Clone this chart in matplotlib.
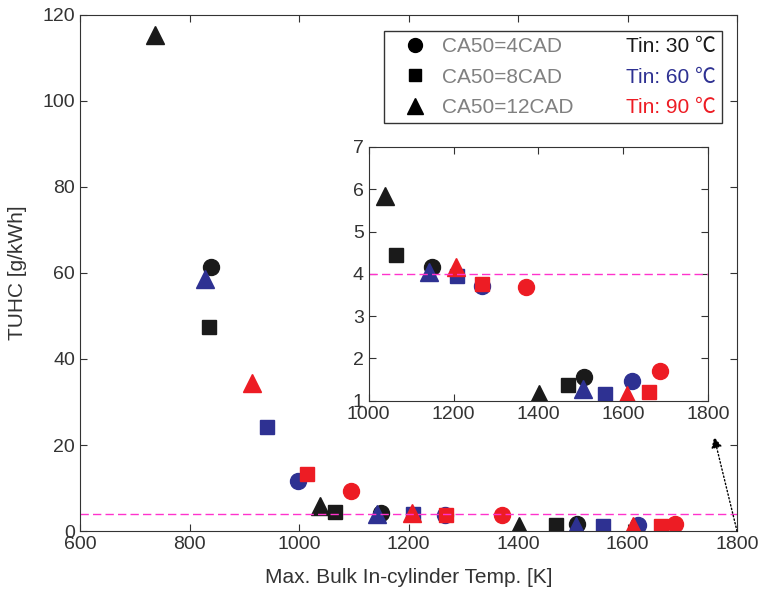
import matplotlib
matplotlib.use("Agg")
import matplotlib.pyplot as plt
from matplotlib.lines import Line2D

plt.rcParams['font.family'] = ['Liberation Sans', 'DejaVu Sans']

# rows: Tin 30, 60, 90 degC
tin_labels = ['Tin: 30 \u2103', 'Tin: 60 \u2103', 'Tin: 90 \u2103']
tin_colors = ['#1a1a1a', '#2e3192', '#ed1c24']

cad4_x = [[840, 1149, 1508], [999, 1266, 1620], [1095, 1370, 1687]]
cad4_y = [[61.5, 4.17, 1.55], [11.7, 3.72, 1.47], [9.3, 3.70, 1.70]]
cad8_x = [[836, 1065, 1470], [942, 1209, 1556], [1014, 1268, 1662]]
cad8_y = [[47.4, 4.45, 1.37], [24.2, 3.94, 1.17], [13.3, 3.75, 1.21]]
cad12_x = [[737, 1039, 1402], [828, 1143, 1506], [914, 1206, 1610]]
cad12_y = [[115.3, 5.83, 1.16], [58.6, 4.05, 1.27], [34.4, 4.17, 1.13]]

cad_labels = ['CA50=4CAD', 'CA50=8CAD', 'CA50=12CAD']
limit = 4

axcol = '#333333'
fig = plt.figure(figsize=(7.65, 5.96), dpi=100)
ax = fig.add_axes([0.1046, 0.109, 0.8588, 0.866])
ins = fig.add_axes([0.482, 0.3277, 0.4435, 0.4257])


def draw(a):
    for i, c in enumerate(tin_colors):
        a.plot(cad4_x[i], cad4_y[i], 'o', ms=11.5, color=c, mec=c, ls='none')
        a.plot(cad8_x[i], cad8_y[i], 's', ms=10, color=c, mec=c, ls='none')
        a.plot(cad12_x[i], cad12_y[i], '^', ms=12.5, color=c, mec=c, ls='none')
    a.axhline(limit, ls='--', color='#ff33cc', lw=1, dashes=(6, 3))
    a.tick_params(direction='in', top=True, right=True, labelsize=14,
                  colors=axcol, length=5)
    for s in a.spines.values():
        s.set_color(axcol)


draw(ax)
ax.set_xlim(600, 1800)
ax.set_ylim(0, 120)
ax.set_xticks(range(600, 1801, 200))
ax.set_yticks(range(0, 121, 20))
ax.set_xlabel('Max. Bulk In-cylinder Temp. [K]', fontsize=15, color=axcol, labelpad=11)
ax.set_ylabel('TUHC [g/kWh]', fontsize=15, color=axcol, labelpad=11)

draw(ins)
ins.set_xlim(1000, 1800)
ins.set_ylim(1, 7)
ins.set_xticks(range(1000, 1801, 200))
ins.set_yticks(range(1, 8))

# legend: marker column + coloured inlet temperature column
handles = [Line2D([], [], marker=m, ms=ms, color='k', ls='none')
           for m, ms in zip(['o', 's', '^'], [10, 8.5, 11])]
blank = [Line2D([], [], ls='none') for _ in range(3)]
leg = ax.legend(handles + blank, cad_labels + tin_labels, ncol=2,
                loc='upper right', bbox_to_anchor=(0.977, 0.969),
                borderaxespad=0, fontsize=15, fancybox=False, framealpha=1,
                edgecolor=axcol, handlelength=2.4, handletextpad=0.1,
                columnspacing=0.0, labelspacing=0.55, borderpad=0.3)
leg.get_frame().set_linewidth(1.0)
texts = leg.get_texts()
for t in texts[:3]:
    t.set_color('#808080')
for t, c in zip(texts[3:], tin_colors):
    t.set_color(c)
    t.set_family(['Liberation Sans', 'Noto Sans CJK SC'])

# dotted arrow from the main axes corner to the inset
ax.annotate('', xy=(1.018, -0.143), xycoords=ins.transAxes,
            xytext=(1800, 0), textcoords='data',
            arrowprops=dict(arrowstyle='-|>', ls=':', lw=1, color='k',
                            mutation_scale=16, shrinkA=0, shrinkB=0),
            annotation_clip=False)

fig.savefig('out.png', dpi=100)
